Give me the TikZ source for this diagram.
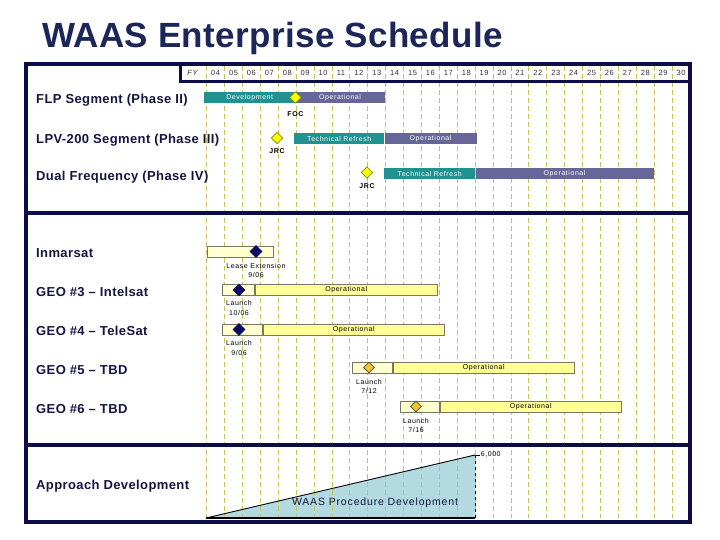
\documentclass[tikz,border=0pt]{standalone}
\usepackage{fontspec}
\setmainfont{Liberation Sans}
\newfontfamily\titlefont[LetterSpace=1]{Liberation Sans}
\newfontfamily\rowfont[LetterSpace=3]{Liberation Sans}
\newfontfamily\chartfont[LetterSpace=8]{Liberation Sans}
\usetikzlibrary{shapes.geometric,positioning}
\definecolor{framenavy}{RGB}{12,12,72}
\definecolor{titlenavy}{RGB}{28,38,88}
\definecolor{labelnavy}{RGB}{20,20,64}
\definecolor{gridolive}{RGB}{196,196,80}
\definecolor{barteal}{RGB}{32,146,146}
\definecolor{barpurple}{RGB}{102,102,153}
\definecolor{barpale}{RGB}{255,255,208}
\definecolor{baryellow}{RGB}{255,255,150}
\definecolor{barrim}{RGB}{120,120,100}
\definecolor{mileyellow}{RGB}{255,255,0}
\definecolor{milenavy}{RGB}{10,10,96}
\definecolor{mileorange}{RGB}{244,196,48}
\definecolor{trifill}{RGB}{178,218,224}

\begin{document}
\begin{tikzpicture}[x=1pt,y=-1pt,
    framestyle/.style={draw=framenavy, line width=4pt},
    colline/.style={draw=gridolive, line width=0.9pt, dash pattern=on 5pt off 3pt},
    rowlabel/.style={anchor=base west, inner sep=0pt, text=labelnavy, font=\rowfont\bfseries\fontsize{13}{15}\selectfont},
    yearlabel/.style={inner sep=0pt, text=black!80, font=\chartfont\fontsize{7.5}{9}\selectfont},
    chartbar/.style={anchor=west, minimum height=11pt, inner sep=0pt, font=\chartfont\fontsize{7}{8}\selectfont},
    tealbar/.style={chartbar, fill=barteal, text=white},
    purplebar/.style={chartbar, fill=barpurple, text=white},
    palebar/.style={chartbar, fill=barpale, draw=barrim, line width=0.8pt},
    opbar/.style={chartbar, fill=baryellow, draw=barrim, line width=0.8pt, text=black},
    milestone/.style={diamond, inner sep=0pt, minimum size=12pt, line width=0.6pt},
    jrcmark/.style={milestone, fill=mileyellow, draw=olive, minimum size=11.5pt},
    geomark/.style={milestone, fill=milenavy, draw=milenavy},
    tbdmark/.style={milestone, fill=mileorange, draw=black!70, minimum size=11pt},
    note/.style={inner sep=1pt, align=center, font=\chartfont\fontsize{7}{9.5}\selectfont},
    notebold/.style={note, font=\chartfont\bfseries\fontsize{7}{9.5}\selectfont}]
  % Page size
  \useasboundingbox (0,0) rectangle (720,540);
  % Title
  \node[anchor=base west, inner sep=0pt, text=titlenavy, font=\titlefont\bfseries\fontsize{35}{40}\selectfont] (title) at (42,48) {WAAS Enterprise Schedule};
  % Procedure triangle (under the grid)
  \coordinate (tribl) at (206,518);
  \coordinate (tritop) at (475,455);
  \coordinate (tribr) at (475,518);
  \fill[trifill] (tribl) -- (tritop) -- (tribr) -- cycle;
  % Year grid
  \foreach \k in {0,...,26}
    \draw[colline] ({206.7+17.9*\k},66) -- ({206.7+17.9*\k},518);
  \node[yearlabel, font=\chartfont\itshape\fontsize{7.5}{9}\selectfont] (fy) at (192.5,73) {FY};
  \foreach \yr [count=\k from 0] in {04,05,06,07,08,09,10,11,...,30}
    \node[yearlabel] (yr\yr) at ({215.65+17.9*\k},73) {\yr};
  % Triangle outline
  \draw[line width=0.9pt] (tribl) -- (tritop);
  \draw[dashed, line width=0.7pt] (tritop) -- (tribr);
  \draw[line width=1.3pt] (tribl) -- (tribr);
  \draw[line width=0.7pt] (tritop) -- ++(5,0) node[right, note, inner sep=0.5pt] (scale) {6,000};
  \node[text=labelnavy, font=\chartfont\fontsize{10.5}{12}\selectfont] (proc) at (375,503) {WAAS Procedure Development};
  % Frame and header
  \draw[framestyle] (26,64) rectangle (690,522);
  \draw[framestyle, line width=3pt] (180,64) rectangle (690,82);
  \draw[framestyle] (26,213) -- (690,213);
  \draw[framestyle] (26,444.5) -- (690,444.5);
  % Row labels
  \node[rowlabel] (flp) at (36,104) {FLP Segment (Phase II)};
  \node[rowlabel] (lpv) at (36,143.5) {LPV-200 Segment (Phase III)};
  \node[rowlabel] (dual) at (36,180.7) {Dual Frequency (Phase IV)};
  \node[rowlabel] (inmarsat) at (36,257.7) {Inmarsat};
  \node[rowlabel] (geo3) at (36,296.7) {GEO \#3 – Intelsat};
  \node[rowlabel] (geo4) at (36,335.7) {GEO \#4 – TeleSat};
  \node[rowlabel] (geo5) at (36,374) {GEO \#5 – TBD};
  \node[rowlabel] (geo6) at (36,413.3) {GEO \#6 – TBD};
  \node[rowlabel] (approach) at (36,489.3) {Approach Development};
  % FLP segment
  \node[tealbar, minimum width=91pt] (flpdev) at (204,97.5) {Development};
  \node[purplebar, minimum width=89pt] (flpop) at (flpdev.east) {Operational};
  \node[jrcmark] (foc) at (flpdev.east) {};
  \node[notebold, below=6.5pt of foc] (foclabel) {FOC};
  % LPV-200 segment
  \node[jrcmark] (jrclpv) at (277,138) {};
  \node[notebold, below=3.5pt of jrclpv] (jrclpvlabel) {JRC};
  \node[tealbar, minimum width=90pt] (lpvref) at (294,138.5) {Technical Refresh};
  \node[purplebar, minimum width=92pt] (lpvop) at (lpvref.east) {Operational};
  % Dual frequency
  \node[jrcmark] (jrcdual) at (367,172.5) {};
  \node[notebold, below=4pt of jrcdual] (jrcduallabel) {JRC};
  \node[tealbar, minimum width=91pt] (dualref) at (384,173.5) {Technical Refresh};
  \node[purplebar, minimum width=178pt] (dualop) at (dualref.east) {Operational};
  % Inmarsat
  \node[palebar, minimum width=66pt] (inmbar) at (207,251.5) {};
  \node[geomark] (lease) at (256,251.5) {};
  \node[note, below=4pt of lease] (leaselabel) {Lease Extension\\9/06};
  % GEO #3
  \node[palebar, minimum width=32pt] (geo3pre) at (222,290) {};
  \node[opbar, minimum width=182pt] (geo3op) at (geo3pre.east) {Operational};
  \node[geomark] (geo3launch) at (239,290) {};
  \node[note, below=3pt of geo3launch] (geo3label) {Launch\\10/06};
  % GEO #4
  \node[palebar, minimum width=40pt] (geo4pre) at (222,329.5) {};
  \node[opbar, minimum width=181pt] (geo4op) at (geo4pre.east) {Operational};
  \node[geomark] (geo4launch) at (239,329.5) {};
  \node[note, below=3.5pt of geo4launch] (geo4label) {Launch\\9/06};
  % GEO #5
  \node[palebar, minimum width=40pt] (geo5pre) at (352,367.5) {};
  \node[opbar, minimum width=181pt] (geo5op) at (geo5pre.east) {Operational};
  \node[tbdmark] (geo5launch) at (369,367.5) {};
  \node[note, below=4.5pt of geo5launch] (geo5label) {Launch\\7/12};
  % GEO #6
  \node[palebar, minimum width=39pt] (geo6pre) at (400,406.5) {};
  \node[opbar, minimum width=181pt] (geo6op) at (geo6pre.east) {Operational};
  \node[tbdmark] (geo6launch) at (416,406.5) {};
  \node[note, below=4.5pt of geo6launch] (geo6label) {Launch\\7/16};
\end{tikzpicture}
\end{document}
